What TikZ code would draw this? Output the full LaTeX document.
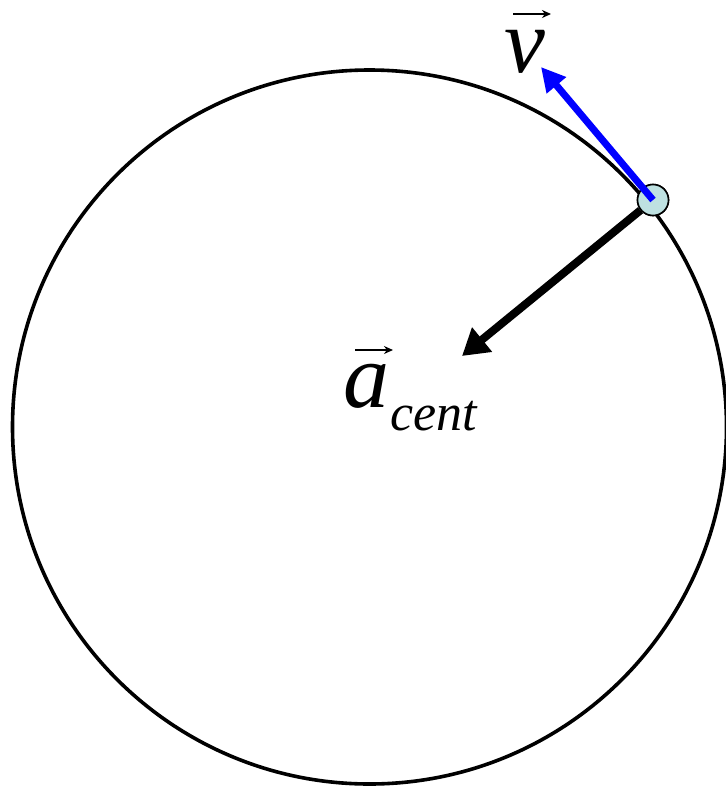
\documentclass[tikz,border=0pt]{standalone}
\usepackage{fontspec}
\newfontfamily\tmsit{Liberation Serif Italic}
\usetikzlibrary{arrows.meta}
\definecolor{ballfill}{RGB}{190,225,225}
\tikzset{
  orbit/.style={draw=black,line width=3.6pt},
  ballstyle/.style={circle,draw=black,line width=1.6pt,fill=ballfill,minimum size=31pt,inner sep=0pt},
  accarrow/.style={line width=8pt,-{Triangle[length=26pt,width=30pt]}},
  velarrow/.style={draw=blue,line width=7pt,-{Triangle[length=24pt,width=24pt]}},
  vecbar/.style={line width=2pt,-{Stealth[length=9pt,width=8pt]}},
  biglabel/.style={inner sep=0pt,font=\tmsit\fontsize{92}{92}\selectfont},
  sublabel/.style={inner sep=0pt,font=\tmsit\fontsize{52}{52}\selectfont}
}
\begin{document}
\begin{tikzpicture}[x=1pt,y=-1pt]
\useasboundingbox (0,0) rectangle (726,788);
\coordinate (C) at (369.5,427);
\draw[orbit] (C) circle (357);
\node[ballstyle] (ball) at (653,200) {};
\coordinate (atip) at (462,356);
\coordinate (vtip) at (541,67);
\draw[accarrow] (ball) -- (atip);
\node[ballstyle] (ball2) at (653,200) {};
\draw[velarrow] (ball2.center) -- (vtip);
% labels
\node[biglabel,anchor=base west] (v) at (504,72) {v};
\coordinate (vb1) at (513,14);
\coordinate (vb2) at (551,14);
\draw[vecbar] (vb1) -- (vb2);
\node[biglabel,anchor=base west] (a) at (343,407) {a};
\node[sublabel,anchor=base west] (cent) at (390,430) {cent};
\coordinate (ab1) at (355,350);
\coordinate (ab2) at (393,350);
\draw[vecbar] (ab1) -- (ab2);
\end{tikzpicture}
\end{document}
